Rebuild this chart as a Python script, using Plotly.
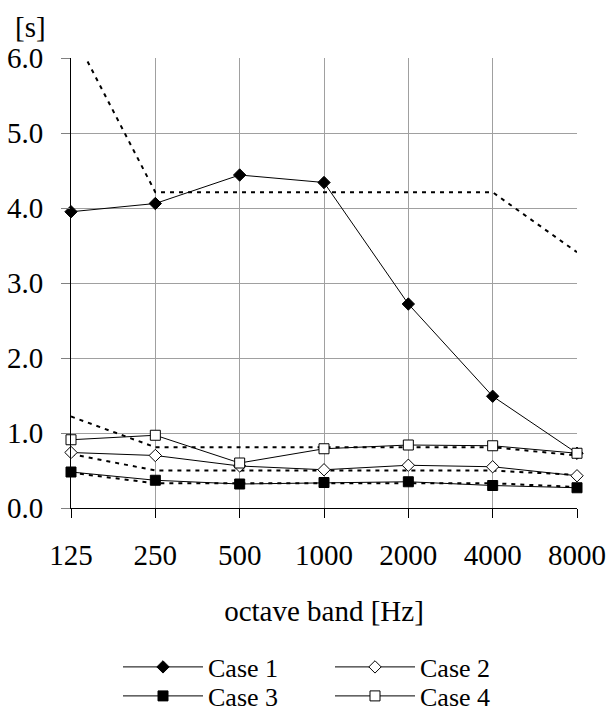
import plotly.graph_objects as go

bands = ["125", "250", "500", "1000", "2000", "4000", "8000"]
case1 = [3.95, 4.06, 4.44, 4.34, 2.72, 1.49, 0.73]
case2 = [0.74, 0.70, 0.56, 0.51, 0.57, 0.55, 0.43]
case3 = [0.48, 0.37, 0.32, 0.34, 0.35, 0.30, 0.27]
case4 = [0.91, 0.97, 0.60, 0.79, 0.84, 0.83, 0.73]
limit1 = [6.38, 4.21, 4.21, 4.21, 4.21, 4.21, 3.41]
limit2 = [1.22, 0.81, 0.81, 0.81, 0.81, 0.81, 0.70]
limit3 = [0.72, 0.50, 0.50, 0.50, 0.50, 0.50, 0.44]
limit4 = [0.47, 0.33, 0.33, 0.33, 0.33, 0.33, 0.28]

FONT = "Liberation Serif"
W, H = 609, 713
L, R, T, B = 71, 32, 58, 205
pw, ph = W - L - R, H - T - B

fig = go.Figure()

for lim in [limit1, limit2, limit3, limit4]:
    fig.add_trace(go.Scatter(
        x=bands, y=lim, mode="lines", showlegend=False, hoverinfo="skip",
        line=dict(color="black", width=2, dash="4px,5px"),
    ))

series = [
    ("Case 1", case1, "diamond", "black", 9.5, "legend"),
    ("Case 2", case2, "diamond", "white", 9.5, "legend"),
    ("Case 3", case3, "square", "black", 10, "legend2"),
    ("Case 4", case4, "square", "white", 10, "legend2"),
]
for name, vals, sym, fill, size, lg in series:
    fig.add_trace(go.Scatter(
        x=bands, y=vals, mode="lines+markers", name=name, legend=lg,
        cliponaxis=False,
        line=dict(color="black", width=1),
        marker=dict(symbol=sym, size=size, color=fill,
                    line=dict(color="black", width=1)),
    ))

grid = "#a0a0a0"
leg_common = dict(
    orientation="h", x=(118 - L) / pw, xanchor="left", yanchor="middle",
    itemwidth=80, entrywidth=117, entrywidthmode="pixels",
    font=dict(family=FONT, size=26, color="black"), bgcolor="rgba(0,0,0,0)",
)
fig.update_layout(
    width=W, height=H,
    margin=dict(l=L, r=R, t=T, b=B, autoexpand=False),
    paper_bgcolor="white", plot_bgcolor="white",
    font=dict(family=FONT, size=29, color="black"),
    xaxis=dict(
        type="category", range=[0, 6], automargin=False,
        showgrid=True, gridcolor=grid, gridwidth=1,
        showline=True, linecolor="black", linewidth=1,
        ticks="outside", ticklen=9, tickcolor="black",
        ticklabelstandoff=12, tickfont=dict(family=FONT, size=29),
        title=dict(text="octave band [Hz]", standoff=30,
                   font=dict(family=FONT, size=29)),
        zeroline=False,
    ),
    yaxis=dict(
        range=[0, 6], dtick=1, tickformat=".1f", automargin=False,
        showgrid=True, gridcolor=grid, gridwidth=1,
        showline=True, linecolor="black", linewidth=1,
        ticks="outside", ticklen=9, tickcolor="#808080",
        ticklabelstandoff=12, tickfont=dict(family=FONT, size=29),
        zeroline=False,
    ),
    legend=dict(y=(508 - 667) / ph, **leg_common),
    legend2=dict(y=(508 - 696) / ph, **leg_common),
    annotations=[dict(
        text="[s]", xref="paper", yref="paper",
        x=(30 - L) / pw, y=(508 - 27) / ph,
        xanchor="center", yanchor="middle", showarrow=False,
        font=dict(family=FONT, size=29),
    )],
    showlegend=True,
)

fig.write_html("out.html")
